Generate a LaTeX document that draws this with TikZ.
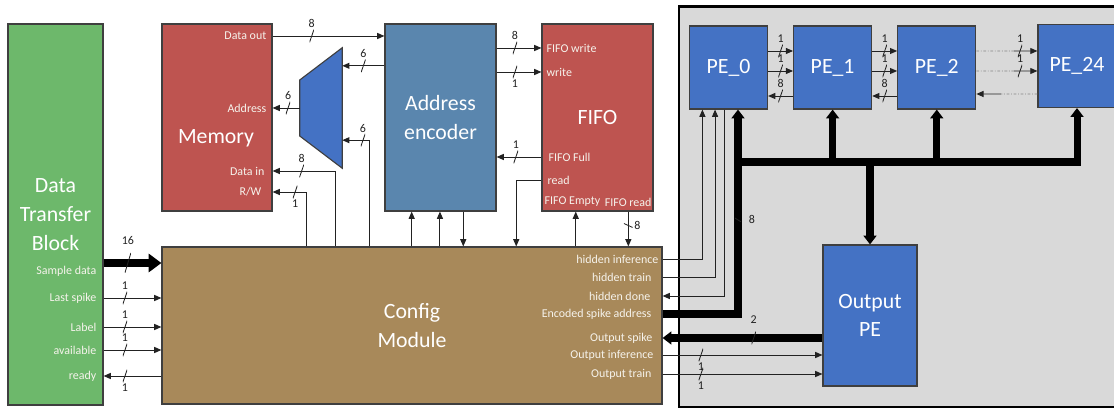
\documentclass[tikz,border=0pt]{standalone}
\usepackage{fontspec}
\setmainfont{Carlito}
\usetikzlibrary{positioning, arrows.meta, calc}

\definecolor{dtbgreen}{HTML}{6DB86B}
\definecolor{cfgbrown}{HTML}{A8895A}
\definecolor{memred}{HTML}{BE5450}
\definecolor{encblue}{HTML}{5A86AE}
\definecolor{peblue}{HTML}{4472C4}
\definecolor{arraygray}{HTML}{D9D9D9}
\definecolor{ink}{HTML}{222222}
\definecolor{edge}{HTML}{3F3F3F}
\definecolor{porttext}{HTML}{F6F3EC}

\newcommand{\bigtxt}{\fontsize{15.5}{20.5}\selectfont}
\newcommand{\smalltxt}{\fontsize{8.5}{10}\selectfont}

\tikzset{
  unit/.style      = {rectangle, draw=edge, line width=0.8pt, text=white,
                      align=center, font=\bigtxt, inner sep=0pt},
  dtbbox/.style    = {unit, fill=dtbgreen},
  cfgbox/.style    = {unit, fill=cfgbrown},
  membox/.style    = {unit, fill=memred},
  encbox/.style    = {unit, fill=encblue},
  pebox/.style     = {unit, fill=peblue, minimum width=19.5mm, minimum height=20.75mm},
  bigtext/.style   = {text=white, font=\bigtxt, inner sep=0pt},
  port/.style      = {text=porttext, font=\smalltxt, inner sep=1pt},
  buslbl/.style    = {text=ink, font=\smalltxt, inner sep=0.5pt},
  sig/.style       = {-{Triangle[length=1.8mm,width=1.5mm]}, line width=0.7pt, draw=ink},
  busar/.style     = {-{Triangle[length=2.2mm,width=3.2mm]}, line width=5pt, draw=black},
  widebus/.style   = {-{Triangle[length=3.2mm,width=4.5mm]}, line width=5.7pt, draw=black},
  skipline/.style  = {line width=0.7pt, draw=ink!55,
                      dash pattern=on 2pt off 1.2pt on 0.6pt off 1.2pt},
  slashmark/.style = {inner sep=0pt, minimum width=1.1mm, minimum height=3.2mm,
                      path picture={\draw[-, line width=0.6pt, draw=ink]
                        (path picture bounding box.south west) -- (path picture bounding box.north east);}},
  flatmark/.style  = {inner sep=0pt, minimum width=2.2mm, minimum height=1mm,
                      path picture={\draw[-, line width=0.6pt, draw=ink]
                        (path picture bounding box.north west) -- (path picture bounding box.south east);}},
  muxshape/.style  = {fill=peblue, draw=edge, line width=0.8pt},
  arrayframe/.style= {fill=arraygray, draw=black, line width=2.1pt},
}

\begin{document}
\begin{tikzpicture}[x=0.25mm, y=-0.25mm]
  \useasboundingbox (0,0) rectangle (1114,410);

  % PE array area
  \draw[arrayframe] (679,6.5) rectangle (1130,407);

  % blocks
  \node[dtbbox, minimum width=23.75mm, minimum height=95.25mm] (dtb) at (55.5,214.5) {Data\\Transfer\\Block};
  \node[cfgbox, minimum width=125mm, minimum height=39.25mm] (cfg) at (412,325.5) {Config\\Module};
  \node[membox, minimum width=27.5mm, minimum height=46.75mm] (mem) at (217,117.5) {};
  \node[bigtext] (memtxt) at (216,138) {Memory};
  \node[encbox, minimum width=27.75mm, minimum height=46.75mm] (aenc) at (440.5,117.5) {Address\\encoder};
  \node[membox, minimum width=27.75mm, minimum height=46.75mm] (fifo) at (597.5,117.5) {FIFO};

  \node[pebox] (pe0) at (728.5,67.5) {PE\_0};
  \node[pebox, right=6.25mm of pe0] (pe1) {PE\_1};
  \node[pebox, right=6.25mm of pe1] (pe2) {PE\_2};
  \node[pebox] (pe24) at (1077,66) {PE\_24};
  \node[pebox, minimum width=23.5mm, minimum height=35.25mm] (outpe) at (870,315.5) {Output\\PE};

  % mux
  \node[inner sep=0pt, minimum width=10.5mm, minimum height=30mm] (mux) at (321,108) {};
  \filldraw[muxshape] (mux.north east) -- (mux.south east)
    -- ($(mux.west)+(0,28)$) -- ($(mux.west)+(0,-28)$) -- cycle;

  % port labels
  \node[port, anchor=east] (psamp) at (98,271) {Sample data};
  \node[port, anchor=east] (plast) at (98,298) {Last spike};
  \node[port, anchor=east] (plabel) at (98,327) {Label};
  \node[port, anchor=east] (pavail) at (98,350) {available};
  \node[port, anchor=east] (pready) at (98,376) {ready};

  \node[port, anchor=east] (pdout) at (268,36) {Data out};
  \node[port, anchor=east] (paddr) at (268,108) {Address};
  \node[port, anchor=east] (pdin) at (266,171) {Data in};
  \node[port, anchor=east] (prw) at (263,192) {R/W};

  \node[port, anchor=west] (pfw) at (545,48) {FIFO write};
  \node[port, anchor=west] (pwr) at (545,72) {write};
  \node[port, anchor=west] (pff) at (547,157) {FIFO Full};
  \node[port, anchor=west] (prd) at (546,180) {read};
  \node[port, anchor=west] (pfe) at (543,202) {FIFO Empty};
  \node[port, anchor=east] (pfr) at (653,202) {FIFO read};

  \node[port, anchor=east] (phinf) at (660,259) {hidden inference};
  \node[port, anchor=east] (phtrn) at (653,277) {hidden train};
  \node[port, anchor=east] (phdone) at (652,296) {hidden done};
  \node[port, anchor=east] (pencs) at (653,314) {Encoded spike address};
  \node[port, anchor=east] (pospk) at (654,338) {Output spike};
  \node[port, anchor=east] (poinf) at (655,355) {Output inference};
  \node[port, anchor=east] (potrn) at (653,374) {Output train};

  % data transfer block <-> config
  \coordinate (ysamp) at (0,263);
  \draw[widebus] (ysamp -| dtb.east) -- node[slashmark, pos=0.42, minimum height=5mm, minimum width=1.5mm,
    label={[buslbl]above:16}] {} (ysamp -| cfg.west);
  \draw[sig] (plast -| dtb.east) -- node[slashmark, pos=0.37, label={[buslbl]above:1}] {} (plast -| cfg.west);
  \draw[sig] (plabel -| dtb.east) -- node[slashmark, pos=0.37, label={[buslbl]above:1}] {} (plabel -| cfg.west);
  \draw[sig] (pavail -| dtb.east) -- node[slashmark, pos=0.37, label={[buslbl]above:1}] {} (pavail -| cfg.west);
  \draw[sig] (pready -| cfg.west) -- node[slashmark, pos=0.63, label={[buslbl]below:1}] {} (pready -| dtb.east);

  % memory side
  \coordinate (mxa) at ($(mux.north east)!0.15!(mux.south east)$);
  \coordinate (mxb) at ($(mux.north east)!0.767!(mux.south east)$);
  \coordinate (cmux) at ($(cfg.north west)!0.416!(cfg.north east)$);
  \coordinate (cdin) at ($(cfg.north west)!0.348!(cfg.north east)$);
  \coordinate (crw) at ($(cfg.north west)!0.29!(cfg.north east)$);
  \draw[sig] (pdout -| mem.east) -- node[slashmark, pos=0.35, label={[buslbl]above:8}] {} (pdout -| aenc.west);
  \draw[sig] (mxa -| aenc.west) -- node[slashmark, pos=0.5, label={[buslbl]above:6}] {} (mxa);
  \draw[sig] (mux.west) -- node[slashmark, pos=0.43, label={[buslbl]above:6}] {} (mux.west -| mem.east);
  \draw[sig] (cmux) |- node[slashmark, pos=0.625, label={[buslbl]above:6}] {} (mxb);
  \draw[sig] (cdin) |- node[slashmark, pos=0.77, label={[buslbl]above:8}] {} (pdin -| mem.east);
  \draw[sig] (crw) |- node[slashmark, pos=0.67, label={[buslbl]below:1}] {} (prw -| mem.east);

  % encoder <-> config
  \coordinate (ea) at ($(aenc.south west)!0.243!(aenc.south east)$);
  \coordinate (eb) at ($(aenc.south west)!0.495!(aenc.south east)$);
  \coordinate (ec) at ($(aenc.south west)!0.703!(aenc.south east)$);
  \draw[sig] (ea |- cfg.north) -- (ea);
  \draw[sig] (eb |- cfg.north) -- (eb);
  \draw[sig] (ec) -- (ec |- cfg.north);

  % encoder <-> FIFO
  \draw[sig] (pfw -| aenc.east) -- node[slashmark, pos=0.41, label={[buslbl]above:8}] {} (pfw -| fifo.west);
  \draw[sig] (pwr -| aenc.east) -- node[slashmark, pos=0.41, label={[buslbl]below:1}] {} (pwr -| fifo.west);
  \draw[sig] (pff -| fifo.west) -- node[slashmark, pos=0.57, label={[buslbl]above:1}] {} (pff -| aenc.east);

  % FIFO <-> config
  \coordinate (crd) at ($(cfg.north west)!0.708!(cfg.north east)$);
  \coordinate (fe) at ($(fifo.south west)!0.306!(fifo.south east)$);
  \coordinate (fr) at ($(fifo.south west)!0.775!(fifo.south east)$);
  \draw[sig] (prd -| fifo.west) -| (crd);
  \draw[sig] (fe |- cfg.north) -- (fe);
  \draw[sig] (fr) -- node[flatmark, pos=0.4, label={[buslbl]right:8}] {} (fr |- cfg.north);

  % config -> PE_0
  \coordinate (p0a) at ($(pe0.south west)!0.17!(pe0.south east)$);
  \coordinate (p0b) at ($(pe0.south west)!0.33!(pe0.south east)$);
  \coordinate (p0c) at ($(pe0.south west)!0.45!(pe0.south east)$);
  \coordinate (p0d) at ($(pe0.south west)!0.62!(pe0.south east)$);
  \draw[sig] (phinf -| cfg.east) -| (p0a);
  \draw[sig] (phtrn -| cfg.east) -| (p0b);
  \draw[sig] (p0c) |- (phdone -| cfg.east);
  \draw[busar] (pencs -| cfg.east) -| node[flatmark, pos=0.73, minimum width=1.6mm,
    label={[buslbl]right:8}] {} (p0d);

  % spike bus to the other PEs
  \coordinate (ybus) at (0,162);
  \draw[busar] (p0d |- ybus) -| (pe24.south);
  \draw[busar] (pe1.south |- ybus) -- (pe1.south);
  \draw[busar] (pe2.south |- ybus) -- (pe2.south);
  \draw[busar] (outpe.north |- ybus) -- (outpe.north);

  % PE chain
  \coordinate (ra) at (0,51);
  \coordinate (rb) at (0,71);
  \coordinate (rc) at (0,96);
  \coordinate (rd) at (0,94);
  \draw[sig] (pe0.east |- ra) -- node[slashmark, label={[buslbl]above:1}] {} (pe1.west |- ra);
  \draw[sig] (pe0.east |- rb) -- node[slashmark, label={[buslbl]above:1}] {} (pe1.west |- rb);
  \draw[sig] (pe1.west |- rc) -- node[slashmark, label={[buslbl]above:8}] {} (pe0.east |- rc);
  \draw[sig] (pe1.east |- ra) -- node[slashmark, label={[buslbl]above:1}] {} (pe2.west |- ra);
  \draw[sig] (pe1.east |- rb) -- node[slashmark, label={[buslbl]above:1}] {} (pe2.west |- rb);
  \draw[sig] (pe2.west |- rc) -- node[slashmark, label={[buslbl]above:8}] {} (pe1.east |- rc);

  \coordinate (da) at ($(pe2.east |- ra)!0.62!(pe24.west |- ra)$);
  \coordinate (db) at ($(pe2.east |- rb)!0.62!(pe24.west |- rb)$);
  \coordinate (dd) at ($(pe2.east |- rd)!0.4!(pe24.west |- rd)$);
  \draw[skipline] (pe2.east |- ra) -- (da);
  \draw[sig] (da) -- node[slashmark, pos=0.25, label={[buslbl]above:1}] {} (pe24.west |- ra);
  \draw[skipline] (pe2.east |- rb) -- (db);
  \draw[sig] (db) -- node[slashmark, pos=0.25, label={[buslbl]above:1}] {} (pe24.west |- rb);
  \draw[skipline] (pe24.west |- rd) -- (dd);
  \draw[sig] (dd) -- (pe2.east |- rd);

  % output PE <-> config
  \draw[busar] (pospk -| outpe.west) -- node[slashmark, pos=0.43, label={[buslbl]above:2}] {} (pospk -| cfg.east);
  \draw[sig] (poinf -| cfg.east) -- node[slashmark, pos=0.24, label={[buslbl]below:1}] {} (poinf -| outpe.west);
  \draw[sig] (potrn -| cfg.east) -- node[slashmark, pos=0.24, label={[buslbl]below:1}] {} (potrn -| outpe.west);

\end{tikzpicture}
\end{document}
